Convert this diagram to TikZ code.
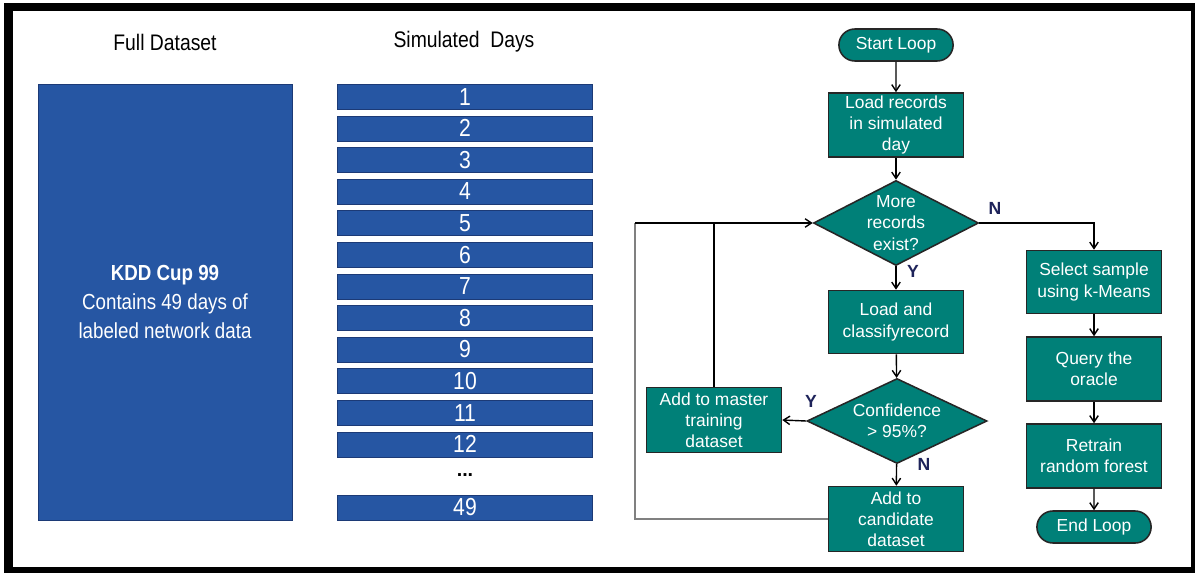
\documentclass[tikz,border=0pt]{standalone}
\usepackage{fontspec}
\setmainfont{Liberation Sans}
\newfontfamily\narrowsans{Liberation Sans}[FakeStretch=0.86]
\usetikzlibrary{shapes.geometric,shapes.misc,arrows.meta}
\definecolor{dsblue}{RGB}{38,86,163}
\definecolor{dsedge}{RGB}{28,58,118}
\definecolor{flowteal}{RGB}{0,128,120}
\definecolor{ynblue}{RGB}{30,35,90}
\begin{document}
\begin{tikzpicture}[x=0.025cm,y=-0.025cm]
\tikzstyle{head}=[font=\narrowsans\fontsize{16}{18}\selectfont]
\tikzstyle{day}=[draw=dsedge,fill=dsblue,text=white,minimum width=6.375cm,minimum height=0.625cm,inner sep=0pt,font=\narrowsans\fontsize{17.5}{18}\selectfont]
\tikzstyle{proc}=[draw=black!85,line width=1.1pt,fill=flowteal,text=white,minimum width=3.375cm,minimum height=1.6cm,inner sep=1pt,align=center,font=\fontsize{12.4}{15}\selectfont]
\tikzstyle{term}=[proc,rounded rectangle,minimum width=2.925cm,minimum height=0.8cm]
\tikzstyle{decision}=[proc,diamond,inner sep=0pt,minimum height=2.125cm]
\tikzstyle{yn}=[text=ynblue,font=\bfseries\fontsize{12.5}{14}\selectfont]
\tikzstyle{flow}=[-{Straight Barb[length=4.5pt,width=6pt]},line width=1pt]
\useasboundingbox (0,0) rectangle (1195,573);
\fill[black] (4,3) rectangle (1195,573);
\fill[white] (13,11) rectangle (1191,567);
% left panel
\node[head] (fullhead) at (165,42) {Full Dataset};
\node[head] (dayshead) at (464,42) {Simulated\ \ Days};
\node[draw=dsedge,fill=dsblue,text=white,minimum width=6.35cm,minimum height=10.9cm,align=center,
  font=\narrowsans\fontsize{15.5}{20.6}\selectfont] (full) at (165,302)
  {{\bfseries KDD Cup 99}\\Contains 49 days of\\labeled network data};
\foreach \d in {1,...,12}
  \node[day] (day\d) at (465,{96.7+(\d-1)*31.6}) {\d};
\node[inner sep=0pt,font=\bfseries\fontsize{14}{16}\selectfont] (dots) at (465,475) {...};
\node[day] (day49) at (465,507.5) {49};
% flowchart
\node[term] (start) at (896,45) {Start Loop};
\node[proc] (load) at (896,125) {Load records\\in simulated\\day};
\node[decision,minimum width=4.125cm,label={[text=white,align=center,font=\fontsize{12.4}{15}\selectfont]center:More\\records\\exist?}] (more) at (896,223) {};
\node[proc,minimum height=1.575cm] (classify) at (896,322) {Load and\\classifyrecord};
\node[decision,minimum width=4.5cm,label={[text=white,align=center,font=\fontsize{12.4}{15}\selectfont]center:Confidence\\> 95\%?}] (conf) at (897,421) {};
\node[proc,minimum height=1.625cm] (master) at (714,420) {Add to master\\training\\dataset};
\node[proc,minimum height=1.625cm] (cand) at (896,519) {Add to\\candidate\\dataset};
\node[proc,minimum height=1.575cm] (select) at (1094,282) {Select sample\\using k-Means};
\node[proc] (query) at (1094,369) {Query the\\oracle};
\node[proc] (retrain) at (1094,456) {Retrain\\random forest};
\node[term] (stop) at (1094,527) {End Loop};
\node[yn] (nmore) at (995,208) {N};
\node[yn] (ymore) at (913,271) {Y};
\node[yn] (yconf) at (811,401) {Y};
\node[yn] (nconf) at (924,464) {N};
\coordinate (loop) at (635,223);
\draw[flow] (start) -- (load);
\draw[flow] (load) -- (more);
\draw[flow] (more) -- (classify);
\draw[flow] (more.east) -| (select.north);
\draw[flow] (classify) -- (conf);
\draw[flow] (conf.west) -- (master.east);
\draw[flow] (conf) -- (cand);
\draw[flow] (select) -- (query);
\draw[flow] (query) -- (retrain);
\draw[flow] (retrain) -- (stop);
\draw[gray,line width=1.4pt] (cand.west) -| (loop);
\draw[flow] (loop) -- (more.west);
\draw[line width=1pt] (master.north) -- (master.north |- more.west);
\end{tikzpicture}
\end{document}
